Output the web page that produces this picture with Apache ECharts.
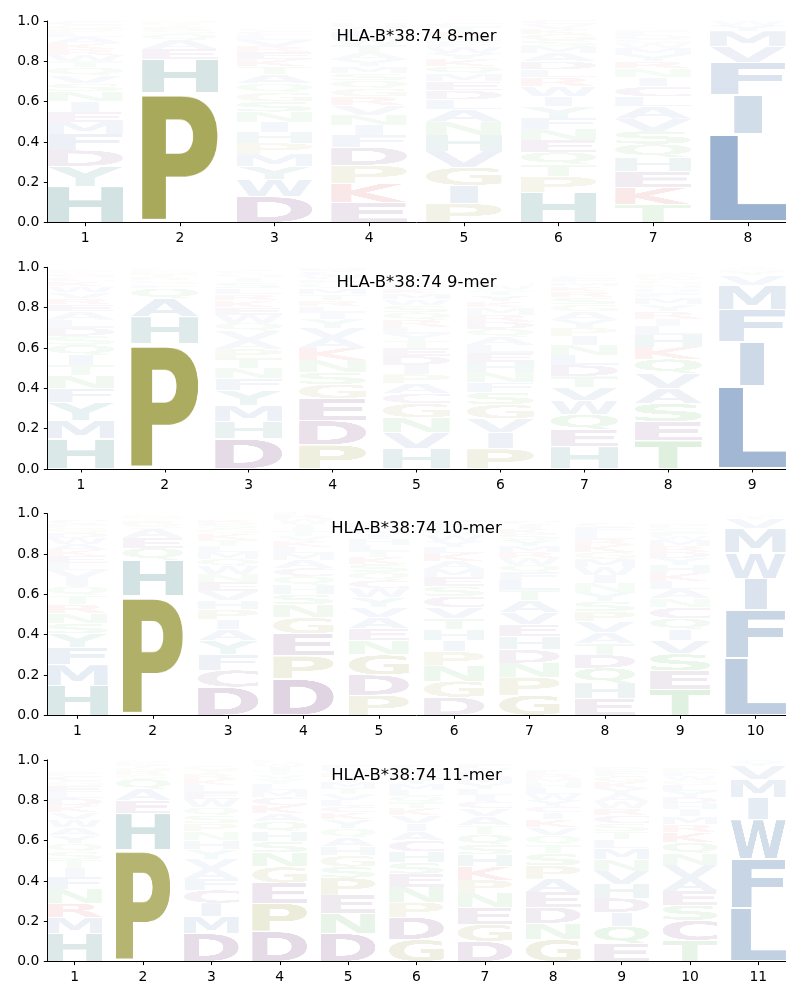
<!DOCTYPE html>
<html>
<head>
<meta charset="utf-8">
<script src="https://cdn.jsdelivr.net/npm/echarts@6.0.0/dist/echarts.min.js"></script>
<style>
html, body { margin: 0; padding: 0; background: #fff; }
#chart { width: 800px; height: 1000px; }
</style>
</head>
<body>
<div id="chart"></div>
<script>
const allele = 'HLA-B*38:74';
const lengths = [8, 9, 10, 11];
const yTicks = [0, 0.2, 0.4, 0.6, 0.8, 1.0];

// letter probabilities per position, read bottom to top
const mer8 = [
  { H: .18, Y: .10, D: .08, F: .08, M: .06, E: .05, I: .05, N: .05, S: .04, V: .04, Q: .04, T: .03, W: .03, R: .03, K: .03, A: .03, L: .02, P: .02, G: .02, C: .02 },
  { P: .645, H: .165, E: .05, A: .045, Q: .03, S: .02, R: .015, T: .01, K: .01, N: .01 },
  { D: .13, W: .085, Y: .065, M: .06, P: .055, H: .055, I: .05, N: .05, S: .05, G: .045, Q: .045, A: .045, T: .04, K: .035, E: .035, R: .03, V: .03, L: .025, C: .02, F: .01 },
  { E: .10, K: .095, P: .09, D: .09, F: .06, I: .05, N: .05, V: .045, R: .045, G: .04, Q: .04, S: .035, M: .035, Y: .035, A: .035, T: .035, W: .035, L: .03, C: .025, H: .02 },
  { P: .095, I: .09, G: .09, V: .08, H: .08, N: .065, A: .06, L: .05, D: .045, E: .045, M: .04, Q: .035, K: .035, Y: .03, W: .03, F: .025, S: .025, R: .025, T: .025, C: .02 },
  { H: .15, P: .08, T: .06, Q: .06, E: .06, N: .055, F: .055, Y: .055, I: .05, W: .05, R: .045, L: .04, D: .04, A: .04, M: .035, S: .03, G: .03, K: .025, V: .025, C: .02 },
  { T: .09, K: .085, E: .08, H: .07, Q: .065, S: .065, V: .06, A: .06, L: .05, C: .05, I: .045, N: .045, R: .035, Y: .035, M: .03, W: .025, G: .02, D: .02, F: .02, P: .01 },
  { L: .44, I: .195, F: .16, V: .08, M: .075, Y: .03, W: .02 }
];

const mer9 = [
  { H: .15, M: .09, Y: .09, F: .07, N: .065, T: .05, I: .05, Q: .05, S: .045, D: .04, L: .04, A: .04, E: .035, R: .03, V: .03, W: .03, K: .025, C: .02, G: .02, P: .015 },
  { P: .62, H: .135, A: .09, Q: .05, E: .02, S: .02, R: .015, T: .015, N: .01, K: .01, L: .01, G: .005 },
  { D: .15, H: .085, M: .08, Y: .075, F: .06, N: .05, T: .05, P: .045, A: .045, V: .045, Q: .04, W: .04, E: .035, K: .035, R: .03, L: .03, S: .03, I: .025, G: .02, C: .015 },
  { P: .12, D: .12, E: .11, G: .07, S: .06, N: .06, K: .06, A: .05, V: .05, Y: .045, I: .03, L: .03, R: .03, T: .03, M: .03, Q: .025, F: .02, W: .02, C: .02, H: .015 },
  { H: .10, V: .08, N: .075, G: .07, C: .05, A: .05, P: .045, I: .045, D: .045, E: .04, T: .035, Y: .035, L: .035, R: .035, Q: .035, S: .035, W: .03, M: .03, K: .025, F: .02 },
  { P: .10, I: .08, V: .07, G: .07, S: .06, F: .05, N: .05, H: .05, E: .045, L: .04, A: .04, Q: .04, D: .035, R: .035, M: .035, K: .03, Y: .03, T: .025, W: .025, C: .02 },
  { H: .11, E: .085, Q: .075, W: .07, V: .065, T: .055, D: .055, L: .05, N: .05, I: .045, P: .04, Y: .04, A: .04, G: .035, S: .035, R: .03, K: .025, M: .02, F: .02, C: .015 },
  { T: .14, E: .095, S: .09, A: .075, V: .075, Q: .07, K: .06, H: .06, L: .045, I: .035, R: .035, Y: .035, M: .035, F: .025, D: .02, N: .02, G: .02, W: .015, P: .01, C: .01 },
  { L: .41, I: .22, F: .16, M: .12, V: .05, Y: .02, W: .01, A: .01 }
];

const mer10 = [
  { H: .15, M: .10, F: .085, Y: .07, S: .05, N: .05, R: .045, T: .045, Q: .045, I: .04, V: .04, L: .035, E: .035, K: .03, A: .03, W: .03, D: .025, G: .025, P: .02, C: .02 },
  { P: .59, H: .18, Q: .06, E: .05, A: .045, S: .02, R: .02, T: .01, N: .01, K: .01, G: .005 },
  { D: .14, C: .085, F: .075, Y: .07, I: .05, A: .055, P: .05, H: .045, V: .045, E: .045, N: .04, W: .04, Q: .035, M: .035, L: .03, T: .03, K: .03, G: .025, S: .025, R: .02 },
  { D: .18, P: .115, E: .11, G: .08, N: .065, S: .05, H: .045, Q: .045, C: .04, A: .04, M: .035, L: .03, K: .03, V: .025, T: .025, I: .02, Y: .02, W: .02, R: .02, F: .015 },
  { P: .10, D: .10, G: .10, N: .07, E: .06, A: .055, V: .05, Y: .05, W: .045, C: .04, Q: .04, S: .04, K: .035, T: .03, L: .03, H: .03, I: .025, M: .02, R: .02, F: .02 },
  { D: .09, G: .08, N: .075, P: .07, I: .055, H: .055, T: .055, V: .055, C: .055, S: .05, E: .045, M: .04, A: .04, K: .04, L: .03, Y: .03, W: .03, Q: .03, R: .025, F: .02 },
  { G: .10, P: .09, N: .07, D: .065, H: .065, E: .06, V: .06, A: .06, T: .05, L: .05, F: .04, Q: .035, W: .035, R: .03, M: .03, Y: .03, S: .03, K: .025, I: .02, C: .02 },
  { E: .085, H: .075, Q: .075, D: .065, T: .055, A: .055, V: .055, P: .05, S: .05, Y: .045, N: .045, I: .04, W: .04, M: .04, G: .035, K: .035, R: .03, L: .03, F: .03, C: .02 },
  { T: .13, E: .09, S: .085, V: .065, I: .055, Q: .055, C: .055, N: .045, A: .045, L: .04, K: .04, H: .04, Y: .035, D: .03, R: .03, M: .03, W: .02, F: .02, G: .02, P: .02 },
  { L: .285, F: .24, I: .155, W: .125, M: .12, V: .05, Y: .015, A: .01 }
];

const mer11 = [
  { H: .14, M: .08, R: .07, N: .07, F: .06, I: .045, T: .04, S: .04, Q: .04, Y: .04, A: .04, W: .04, V: .035, K: .035, D: .035, L: .03, E: .03, G: .025, C: .025, P: .02 },
  { P: .555, H: .18, E: .065, A: .055, Q: .05, S: .02, R: .02, N: .015, T: .015, K: .015, G: .01 },
  { D: .14, M: .085, I: .065, C: .065, F: .055, A: .05, V: .05, Y: .045, H: .045, N: .045, P: .04, S: .04, Q: .04, W: .04, E: .035, L: .035, K: .03, R: .025, T: .02, G: .02 },
  { D: .15, P: .14, E: .10, G: .08, N: .07, S: .055, H: .05, Q: .05, A: .04, K: .04, C: .04, M: .035, L: .03, Y: .025, V: .02, T: .02, I: .02, W: .015, R: .01, F: .01 },
  { D: .14, N: .10, E: .09, P: .085, S: .055, G: .055, H: .045, A: .045, Q: .045, Y: .045, K: .035, C: .03, L: .03, V: .03, T: .03, M: .03, I: .025, R: .02, W: .02, F: .02 },
  { G: .11, D: .11, P: .075, N: .075, E: .065, S: .055, H: .055, C: .055, A: .045, I: .04, V: .04, K: .035, T: .03, Q: .03, L: .03, M: .03, Y: .03, R: .025, W: .02, F: .02 },
  { D: .10, G: .085, E: .085, N: .07, P: .065, K: .065, H: .06, S: .05, Q: .05, T: .045, A: .045, V: .04, C: .035, I: .03, L: .03, Y: .03, M: .03, R: .025, W: .02, F: .02 },
  { G: .11, N: .08, D: .08, E: .075, A: .065, P: .065, S: .06, T: .045, Q: .045, V: .04, K: .04, I: .035, C: .03, Y: .03, W: .03, L: .03, H: .025, M: .025, R: .02, F: .02 },
  { E: .09, Q: .085, I: .07, D: .07, H: .07, V: .065, N: .055, M: .055, L: .045, T: .04, S: .04, C: .04, R: .035, W: .035, A: .035, Y: .03, K: .03, G: .03, F: .025, P: .02 },
  { T: .105, C: .10, S: .075, E: .07, A: .065, V: .065, N: .055, Q: .055, K: .05, R: .04, M: .04, I: .035, H: .03, D: .03, Y: .03, L: .03, G: .025, W: .02, F: .02, P: .02 },
  { L: .265, F: .245, W: .195, I: .11, M: .09, V: .065, Y: .02, A: .01 }
];

const logos = [mer8, mer9, mer10, mer11];

const letterColors = {
  A: '#1c5294', C: '#641e6e', D: '#550f5f', E: '#550f5f', F: '#1c5294',
  G: '#6e6e00', H: '#0f6464', I: '#1c5294', K: '#c80000', L: '#1c5294',
  M: '#1c5294', N: '#1e961e', P: '#7a7a00', Q: '#1e961e', R: '#c80000',
  S: '#1e961e', T: '#1e961e', V: '#1c5294', W: '#1c5294', Y: '#146e6e'
};
const letterList = Object.keys(letterColors);

// render each letter once, cropped tight to its ink
function makeGlyph(ch, color) {
  const c = document.createElement('canvas');
  c.width = 320; c.height = 320;
  const ctx = c.getContext('2d');
  ctx.font = 'bold 200px "DejaVu Sans"';
  ctx.fillStyle = color;
  ctx.textBaseline = 'alphabetic';
  ctx.fillText(ch, 40, 240);
  const d = ctx.getImageData(0, 0, 320, 320).data;
  let x0 = 320, y0 = 320, x1 = -1, y1 = -1;
  for (let y = 0; y < 320; y++) {
    for (let x = 0; x < 320; x++) {
      if (d[(y * 320 + x) * 4 + 3] > 8) {
        if (x < x0) x0 = x;
        if (x > x1) x1 = x;
        if (y < y0) y0 = y;
        if (y > y1) y1 = y;
      }
    }
  }
  const w = x1 - x0 + 1, h = y1 - y0 + 1;
  const out = document.createElement('canvas');
  out.width = w; out.height = h;
  out.getContext('2d').drawImage(c, x0, y0, w, h, 0, 0, w, h);
  return { img: out, w: w };
}

function init() {
  const glyphs = {};
  letterList.forEach(ch => { glyphs[ch] = makeGlyph(ch, letterColors[ch]); });
  const refW = makeGlyph('E', '#000').w;

  const gridTop = 21, gridStep = 246.3, gridH = 201.7;
  const grids = [], xAxes = [], yAxes = [], series = [], titles = [];

  logos.forEach((cols, i) => {
    const n = lengths[i];
    const positions = cols.map((_, k) => k + 1);
    grids.push({ left: 47.3, right: 14.3, top: gridTop + i * gridStep, height: gridH, containLabel: false, outerBoundsMode: 'none' });
    xAxes.push({
      type: 'value', gridIndex: i, min: 0.6, max: n + 0.4,
      axisLine: { lineStyle: { color: '#000', width: 1 } },
      axisTick: { customValues: positions, length: 3.5, lineStyle: { color: '#000' } },
      axisLabel: { customValues: positions, color: '#000', fontFamily: 'DejaVu Sans', fontSize: 13.9, margin: 9 },
      splitLine: { show: false }
    });
    yAxes.push({
      type: 'value', gridIndex: i, min: 0, max: 1, interval: 0.2,
      axisLine: { show: true, lineStyle: { color: '#000', width: 1 } },
      axisTick: { show: true, length: 3.5, lineStyle: { color: '#000' } },
      axisLabel: { color: '#000', fontFamily: 'DejaVu Sans', fontSize: 13.9, margin: 8,
        formatter: v => v.toFixed(1) },
      splitLine: { show: false }
    });

    const data = [];
    cols.forEach((col, k) => {
      const stack = Object.entries(col).sort((a, b) => b[1] - a[1]);
      let floor = 0;
      stack.forEach(([ch, p]) => {
        data.push([k + 1, floor, floor + p, letterList.indexOf(ch), p]);
        floor += p;
      });
    });

    series.push({
      type: 'custom', xAxisIndex: i, yAxisIndex: i, clip: false, silent: true,
      encode: { x: 0, y: [1, 2] },
      data: data,
      renderItem: function (params, api) {
        const pos = api.value(0), lo = api.value(1), hi = api.value(2);
        const g = glyphs[letterList[api.value(3)]];
        const pad = (hi - lo) * 0.025;
        const tl = api.coord([pos - 0.4, hi - pad]);
        const br = api.coord([pos + 0.4, lo + pad]);
        const fullW = br[0] - tl[0];
        const w = fullW * Math.min(1, g.w / refW);
        return {
          type: 'image',
          style: { image: g.img, x: tl[0] + (fullW - w) / 2, y: tl[1], width: w, height: br[1] - tl[1], opacity: api.value(4) }
        };
      }
    });

    titles.push({
      type: 'text', x: 416.5, y: gridTop + i * gridStep + 15.5, z: 100,
      style: { text: allele + ' ' + n + '-mer', font: '16.5px "DejaVu Sans"', fill: '#000',
        align: 'center', verticalAlign: 'middle', textAlign: 'center', textVerticalAlign: 'middle' }
    });
  });

  const chart = echarts.init(document.getElementById('chart'), null, { renderer: 'canvas' });
  chart.setOption({
    animation: false,
    backgroundColor: '#fff',
    grid: grids,
    xAxis: xAxes,
    yAxis: yAxes,
    series: series,
    graphic: titles
  });
}

if (document.fonts && document.fonts.load) {
  document.fonts.load('bold 200px "DejaVu Sans"').then(init, init);
} else {
  init();
}
</script>
</body>
</html>
